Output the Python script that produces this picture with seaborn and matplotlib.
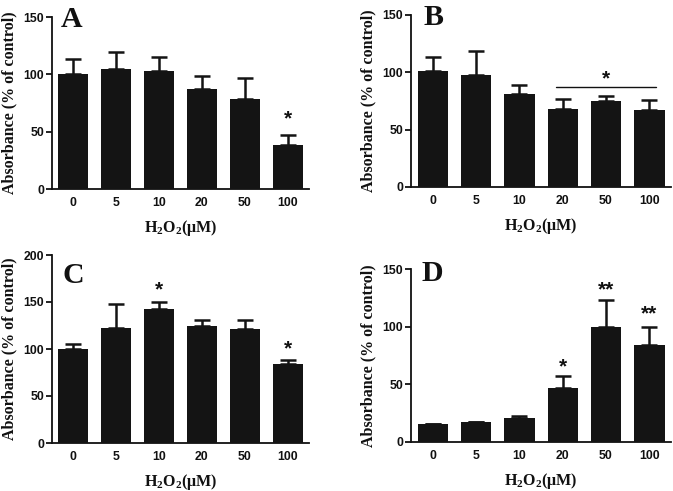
import matplotlib
matplotlib.use("Agg")
import matplotlib.pyplot as plt
import seaborn as sns
import numpy as np
import pandas as pd

# ---------------- data ----------------
doses = ["0", "5", "10", "20", "50", "100"]

a_mean = [100, 105, 103, 87.5, 78.5, 38]
a_err = [13, 14.5, 12, 11, 18, 9]

b_mean = [101, 98, 81, 68, 75, 67]
b_err = [12, 21, 8, 8.5, 4, 9]

c_mean = [100.5, 122.5, 143, 125, 121.5, 84.5]
c_err = [4.5, 25.5, 7.5, 6, 9.5, 3.5]

d_mean = [15.2, 17, 20.8, 46.5, 100, 84.3]
d_err = [0.4, 0.4, 2, 10.8, 22.7, 15.2]

panel_letters = ["A", "B", "C", "D"]
y_limits = [150, 150, 200, 150]
y_steps = [50, 50, 50, 50]
x_label = "H$_2$O$_2$(μM)"
y_label = "Absorbance (% of control)"

# significance marks: (category index, value, text)
a_stars = [(5, 61.5, "*")]
c_stars = [(2, 162.5, "*"), (5, 100.5, "*")]
d_stars = [(3, 65, "*"), (4, 132, "**"), (5, 111, "**")]
b_bracket = (2.85, 5.15, 87, 4.0, 94.5, "*")

# ---------------- style ----------------
sns.set_theme(style="ticks")
plt.rcParams["font.family"] = ["Liberation Sans", "DejaVu Sans"]
plt.rcParams["mathtext.fontset"] = "custom"
plt.rcParams["mathtext.rm"] = "Liberation Serif:bold"
plt.rcParams["mathtext.bf"] = "Liberation Serif:bold"
plt.rcParams["mathtext.it"] = "Liberation Serif:bold"
plt.rcParams["mathtext.default"] = "rm"

W, H = 673, 491
fig = plt.figure(figsize=(W / 100, H / 100), dpi=100)

def rect(l, r, t, b):
    return [l / W, 1 - b / H, (r - l) / W, (b - t) / H]

rects = [rect(52, 309, 17, 189), rect(411, 671, 15, 187),
         rect(52, 309, 255, 443), rect(411, 671, 269, 442)]
letter_pos = [(61, 6), (424, 4), (62, 262), (421, 260)]
means = [a_mean, b_mean, c_mean, d_mean]
errs = [a_err, b_err, c_err, d_err]
stars = [a_stars, [], c_stars, d_stars]

bar_color = "#141414"
ink = "#111111"

for i in range(4):
    ax = fig.add_axes(rects[i])
    df = pd.DataFrame({"dose": doses, "value": means[i]})
    sns.barplot(data=df, x="dose", y="value", order=doses, color=bar_color,
                width=0.7, saturation=1, errorbar=None, ax=ax, zorder=3,
                edgecolor=bar_color, linewidth=0)
    pos = np.arange(len(doses))
    ax.errorbar(pos, means[i], yerr=[np.zeros(len(doses)), errs[i]],
                fmt="none", ecolor=bar_color, elinewidth=1.8, capsize=6,
                capthick=1.8, zorder=2)
    ax.set_xlim(-0.5, 5.5)
    ax.set_ylim(0, y_limits[i])
    ax.set_yticks(np.arange(0, y_limits[i] + 1, y_steps[i]))
    for s in ["top", "right"]:
        ax.spines[s].set_visible(False)
    for s in ["left", "bottom"]:
        ax.spines[s].set_linewidth(1.3)
        ax.spines[s].set_color(ink)
    ax.tick_params(axis="y", length=4, width=1.3, pad=1.5, labelsize=8.8,
                   color=ink)
    ax.tick_params(axis="x", length=0, pad=6, labelsize=8.8)
    for lab in ax.get_xticklabels() + ax.get_yticklabels():
        lab.set_fontweight("bold")
        lab.set_color(ink)
    ax.set_xlabel(x_label, fontsize=11.5, family="Liberation Serif",
                  fontweight="bold", labelpad=6.5, color=ink)
    ax.set_ylabel(y_label, fontsize=11.5, family="Liberation Serif",
                  fontweight="bold", labelpad=4.5, color=ink)
    lx, ly = letter_pos[i]
    fig.text(lx / W, 1 - ly / H, panel_letters[i],
             family="Liberation Serif", fontweight="bold", fontsize=21.5,
             va="top", ha="left", color=ink)
    for (xi, yv, txt) in stars[i]:
        ax.text(xi, yv, txt, ha="center", va="center", fontsize=15,
                fontweight="bold", color=ink)
    if i == 1:
        x0, x1, yl, xs, ys, t = b_bracket
        ax.plot([x0, x1], [yl, yl], color=ink, lw=1.0)
        ax.text(xs, ys, t, ha="center", va="center", fontsize=15,
                fontweight="bold", color=ink)

fig.savefig("out.png", dpi=100)
